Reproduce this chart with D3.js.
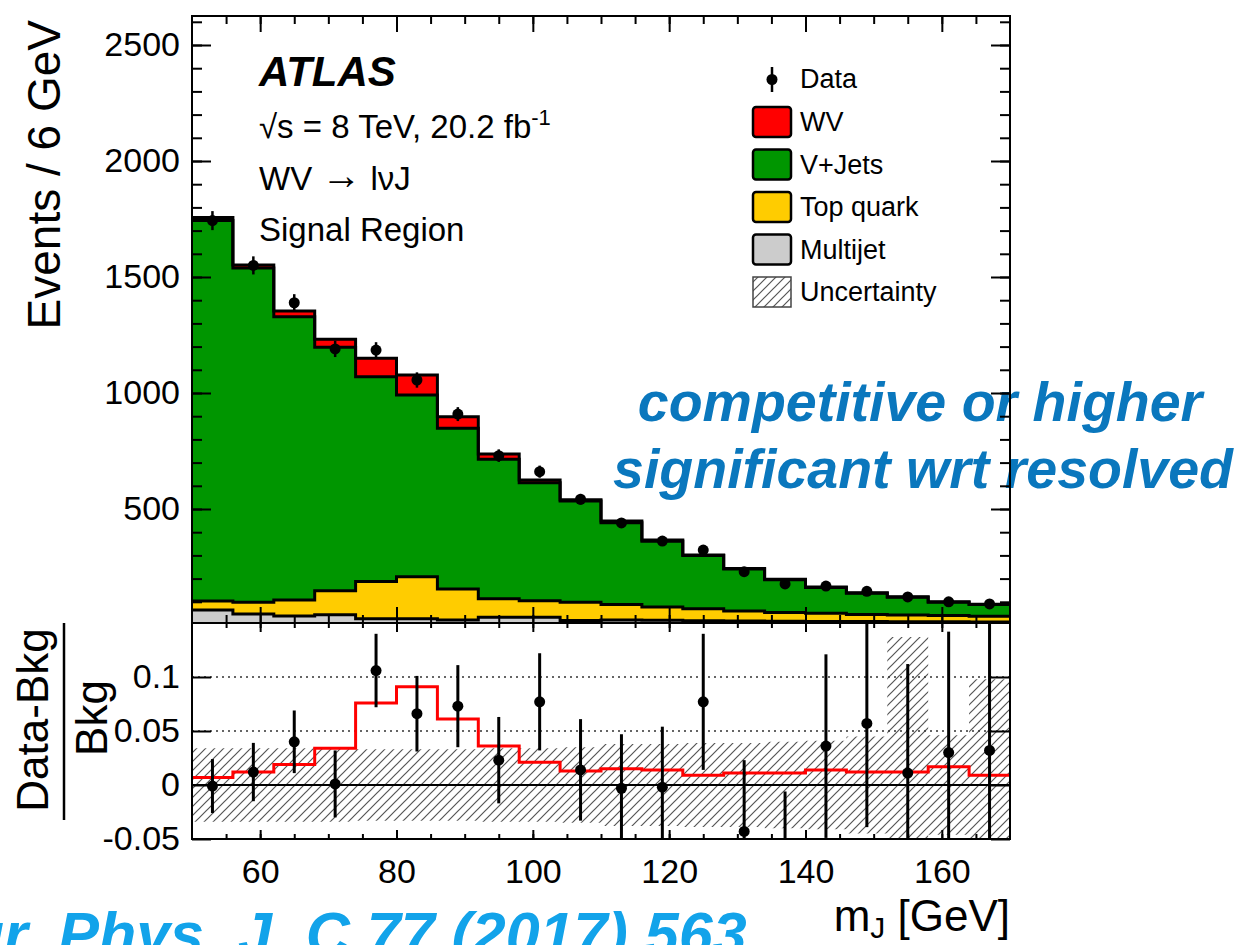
<!DOCTYPE html>
<html>
<head>
<meta charset="utf-8">
<script src="https://cdn.jsdelivr.net/npm/d3@7"></script>
<style>
body { margin: 0; background: #fff; }
svg { display: block; font-family: "Liberation Sans", Arial, Helvetica, sans-serif; }
</style>
</head>
<body>
<div class="chart"></div>
<script>
// DATA ------------------------------------

// bin edges of m_J in GeV (6 GeV bins)
const binEdges = [50,56,62,68,74,80,86,92,98,104,110,116,122,128,134,140,146,152,158,164,170]

// stacked backgrounds + signal, events per bin (bottom to top)
const multijet = [65,47,39,44,27,27,22,33,33,19,22,20,18,17,16,15,15,14,14,13]
const topQuark = [38,51,69,104,160,181,133,80,72,79,66,58,52,43,38,36,30,29,27,25]
const vJets    = [1641,1441,1221,1049,883,783,693,601,508,436,353,283,230,181,141,111,92,77,57,50]
const wvSignal = [12,13,24,35,80,87,50,23,12,6,7,5,2,2,2,2,2,2,2,1]

// observed data
const dataCounts = [1743,1550,1389,1190,1185,1056,909,730,661,542,440,362,323,230,177,168,145,121,100,91]
const dataErr    = [41,39,37,35,34,33,30,27,26,23,21,19,18,15,13,13,12,11,10,10]

// lower panel: (Data-Bkg)/Bkg
const ratioData   = [-0.001,0.012,0.040,0.001,0.106,0.066,0.073,0.023,0.077,0.014,-0.003,-0.002,0.077,-0.043,-0.080,0.036,0.057,0.011,0.030,0.032]
const ratioErr    = [0.025,0.027,0.029,0.031,0.034,0.035,0.038,0.040,0.045,0.047,0.050,0.056,0.063,0.066,0.074,0.085,0.096,0.101,0.112,0.125]
const ratioSignal = [0.007,0.012,0.019,0.034,0.076,0.091,0.061,0.036,0.021,0.013,0.015,0.014,0.009,0.011,0.011,0.014,0.012,0.012,0.017,0.009]
const ratioBand   = [0.034,0.034,0.034,0.034,0.033,0.033,0.033,0.034,0.034,0.035,0.038,0.038,0.039,0.039,0.040,0.041,0.045,0.137,0.046,0.098]

// tick labels
const mainYTicks = [500,1000,1500,2000,2500]
const ratioYTicks = [-0.05,0,0.05,0.1]
const ratioGrid = [0.05,0.1]

const legendLabels = ["Data","WV","V+Jets","Top quark","Multijet","Uncertainty"]
const stackKeys = ["multijet","top","vjets","wv"]
const stackColors = {wv:"#ff0000", vjets:"#009600", top:"#ffcc00", multijet:"#cccccc"}

// CHART INIT ------------------------------

const W = 1238, H = 945
const frame = {left: 192, right: 1010, top: 16, mid: 623, bottom: 839}

const svg = d3.select(".chart").append("svg")
    .attr("width", W)
    .attr("height", H)

const defs = svg.append("defs")
const hatch = defs.append("pattern")
    .attr("id", "hatch")
    .attr("patternUnits", "userSpaceOnUse")
    .attr("width", 9).attr("height", 9)
hatch.append("path")
    .attr("d", "M-1,1 l2,-2 M0,9 l9,-9 M8,10 l2,-2")
    .attr("stroke", "#555").attr("stroke-width", 1.2)

defs.append("clipPath").attr("id", "clip-main")
    .append("rect")
    .attr("x", frame.left).attr("y", frame.top)
    .attr("width", frame.right - frame.left).attr("height", frame.mid - frame.top)
defs.append("clipPath").attr("id", "clip-ratio")
    .append("rect")
    .attr("x", frame.left).attr("y", frame.mid)
    .attr("width", frame.right - frame.left).attr("height", frame.bottom - frame.mid)

const xScale = d3.scaleLinear().domain([50, 170]).range([frame.left, frame.right])
const yScale = d3.scaleLinear().domain([0, 2625]).range([625, frame.top])
const rScale = d3.scaleLinear().domain([-0.05, 0.15]).range([frame.bottom, frame.mid])

const centers = binEdges.slice(0, -1).map((e, i) => (e + binEdges[i + 1]) / 2)

// step points for a histogram
function steps(vals) {
    const pts = []
    vals.forEach((v, i) => {
        pts.push([binEdges[i], v])
        pts.push([binEdges[i + 1], v])
    })
    return pts
}

// blue slide annotations (under the plot frame)
const blue = svg.append("g").attr("font-weight", "bold").attr("font-style", "italic")
blue.append("text")
    .attr("x", 920).attr("y", 421)
    .attr("text-anchor", "middle")
    .attr("font-size", 55.5)
    .attr("fill", "#0a77bd")
    .text("competitive or higher")
blue.append("text")
    .attr("x", 923).attr("y", 488)
    .attr("text-anchor", "middle")
    .attr("font-size", 55.5)
    .attr("fill", "#0a77bd")
    .text("significant wrt resolved")
blue.append("text")
    .attr("x", -74).attr("y", 955)
    .attr("font-size", 61)
    .attr("fill", "#12a3ea")
    .text("Eur. Phys. J. C 77 (2017) 563")

// MAIN PANEL ------------------------------

const rows = binEdges.slice(0, -1).map((e, i) => ({
    multijet: multijet[i], top: topQuark[i], vjets: vJets[i], wv: wvSignal[i]
}))
const stacked = d3.stack().keys(stackKeys)(rows)

const mainG = svg.append("g").attr("clip-path", "url(#clip-main)")

const area = d3.area()
    .x(d => xScale(d[0]))
    .y0(d => yScale(d[1]))
    .y1(d => yScale(d[2]))
const line = d3.line()
    .x(d => xScale(d[0]))
    .y(d => yScale(d[1]))

stacked.forEach(s => {
    const pts = []
    s.forEach((d, i) => {
        pts.push([binEdges[i], d[0], d[1]])
        pts.push([binEdges[i + 1], d[0], d[1]])
    })
    mainG.append("path")
        .attr("d", area(pts))
        .attr("fill", stackColors[s.key])
})
stacked.forEach(s => {
    mainG.append("path")
        .attr("d", line(steps(s.map(d => d[1]))))
        .attr("fill", "none")
        .attr("stroke", "#000")
        .attr("stroke-width", 3)
})

// data points
mainG.selectAll(".derr")
    .data(dataCounts)
    .join("line")
        .attr("x1", (d, i) => xScale(centers[i]))
        .attr("x2", (d, i) => xScale(centers[i]))
        .attr("y1", (d, i) => yScale(d - dataErr[i]))
        .attr("y2", (d, i) => yScale(d + dataErr[i]))
        .attr("stroke", "#000").attr("stroke-width", 2.5)
mainG.selectAll(".dpt")
    .data(dataCounts)
    .join("circle")
        .attr("cx", (d, i) => xScale(centers[i]))
        .attr("cy", d => yScale(d))
        .attr("r", 5.5)
        .attr("fill", "#000")

// RATIO PANEL -----------------------------

const ratioG = svg.append("g").attr("clip-path", "url(#clip-ratio)")

const bandArea = d3.area()
    .x(d => xScale(d[0]))
    .y0(d => rScale(-d[1]))
    .y1(d => rScale(d[1]))
ratioG.append("path")
    .attr("d", bandArea(steps(ratioBand)))
    .attr("fill", "url(#hatch)")

ratioG.selectAll(".grid")
    .data(ratioGrid)
    .join("line")
        .attr("x1", frame.left).attr("x2", frame.right)
        .attr("y1", d => rScale(d)).attr("y2", d => rScale(d))
        .attr("stroke", "#333").attr("stroke-width", 1.5)
        .attr("stroke-dasharray", "2,4")

ratioG.append("line")
    .attr("x1", frame.left).attr("x2", frame.right)
    .attr("y1", rScale(0)).attr("y2", rScale(0))
    .attr("stroke", "#000").attr("stroke-width", 2)

const rLine = d3.line()
    .x(d => xScale(d[0]))
    .y(d => rScale(d[1]))
ratioG.append("path")
    .attr("d", rLine(steps(ratioSignal)))
    .attr("fill", "none")
    .attr("stroke", "#ff0000")
    .attr("stroke-width", 3)

ratioG.selectAll(".rerr")
    .data(ratioData)
    .join("line")
        .attr("x1", (d, i) => xScale(centers[i]))
        .attr("x2", (d, i) => xScale(centers[i]))
        .attr("y1", (d, i) => rScale(d - ratioErr[i]))
        .attr("y2", (d, i) => rScale(d + ratioErr[i]))
        .attr("stroke", "#000").attr("stroke-width", 3)
ratioG.selectAll(".rpt")
    .data(ratioData)
    .join("circle")
        .attr("cx", (d, i) => xScale(centers[i]))
        .attr("cy", d => rScale(d))
        .attr("r", 5.5)
        .attr("fill", "#000")

// AXES ------------------------------------

function styleAxis(g) {
    g.select(".domain").remove()
    g.selectAll(".tick line").attr("stroke", "#000").attr("stroke-width", 2)
    g.selectAll(".tick text")
        .attr("fill", "#000")
        .attr("font-size", 34)
        .attr("font-family", "Liberation Sans, Arial, sans-serif")
}

const xMajor = xScale.ticks(6)
const xMinor = xScale.ticks(24).filter(v => v > 50 && v < 170)
const yMinor = yScale.ticks(26).filter(v => yScale(v) < frame.mid - 1 && v > 0)

// main y, left and right
svg.append("g").attr("transform", `translate(${frame.left},0)`)
    .call(d3.axisLeft(yScale).tickValues(yMinor).tickSizeInner(-10).tickSizeOuter(0).tickFormat(""))
    .call(styleAxis)
svg.append("g").attr("transform", `translate(${frame.left},0)`)
    .call(d3.axisLeft(yScale).tickValues(mainYTicks).tickSizeInner(-19).tickSizeOuter(0)
        .tickPadding(12).tickFormat(d3.format("d")))
    .call(styleAxis)
svg.append("g").attr("transform", `translate(${frame.right},0)`)
    .call(d3.axisRight(yScale).tickValues(yMinor).tickSizeInner(-10).tickSizeOuter(0).tickFormat(""))
    .call(styleAxis)
svg.append("g").attr("transform", `translate(${frame.right},0)`)
    .call(d3.axisRight(yScale).tickValues(mainYTicks).tickSizeInner(-19).tickSizeOuter(0).tickFormat(""))
    .call(styleAxis)

// main x, top and bottom
svg.append("g").attr("transform", `translate(0,${frame.top})`)
    .call(d3.axisBottom(xScale).tickValues(xMinor).tickSizeInner(8).tickSizeOuter(0).tickFormat(""))
    .call(styleAxis)
svg.append("g").attr("transform", `translate(0,${frame.top})`)
    .call(d3.axisBottom(xScale).tickValues(xMajor).tickSizeInner(16).tickSizeOuter(0).tickFormat(""))
    .call(styleAxis)
svg.append("g").attr("transform", `translate(0,${frame.mid})`)
    .call(d3.axisTop(xScale).tickValues(xMinor).tickSizeInner(8).tickSizeOuter(0).tickFormat(""))
    .call(styleAxis)
svg.append("g").attr("transform", `translate(0,${frame.mid})`)
    .call(d3.axisTop(xScale).tickValues(xMajor).tickSizeInner(16).tickSizeOuter(0).tickFormat(""))
    .call(styleAxis)

// ratio x, top and bottom
svg.append("g").attr("transform", `translate(0,${frame.mid})`)
    .call(d3.axisBottom(xScale).tickValues(xMinor).tickSizeInner(5).tickSizeOuter(0).tickFormat(""))
    .call(styleAxis)
svg.append("g").attr("transform", `translate(0,${frame.mid})`)
    .call(d3.axisBottom(xScale).tickValues(xMajor).tickSizeInner(9).tickSizeOuter(0).tickFormat(""))
    .call(styleAxis)
svg.append("g").attr("transform", `translate(0,${frame.bottom})`)
    .call(d3.axisBottom(xScale).tickValues(xMinor).tickSizeInner(-5).tickSizeOuter(0).tickFormat(""))
    .call(styleAxis)
svg.append("g").attr("transform", `translate(0,${frame.bottom})`)
    .call(d3.axisBottom(xScale).tickValues(xMajor).tickSizeInner(-9).tickSizeOuter(0).tickPadding(20))
    .call(styleAxis)

// ratio y, left and right
svg.append("g").attr("transform", `translate(${frame.left},0)`)
    .call(d3.axisLeft(rScale).tickValues(ratioYTicks).tickSizeInner(-19).tickSizeOuter(0)
        .tickPadding(12).tickFormat(d => String(d)))
    .call(styleAxis)
svg.append("g").attr("transform", `translate(${frame.right},0)`)
    .call(d3.axisRight(rScale).tickValues(ratioYTicks).tickSizeInner(-19).tickSizeOuter(0).tickFormat(""))
    .call(styleAxis)

// frames
svg.append("rect")
    .attr("x", frame.left).attr("y", frame.top)
    .attr("width", frame.right - frame.left).attr("height", frame.mid - frame.top)
    .attr("fill", "none").attr("stroke", "#000").attr("stroke-width", 2)
svg.append("rect")
    .attr("x", frame.left).attr("y", frame.mid)
    .attr("width", frame.right - frame.left).attr("height", frame.bottom - frame.mid)
    .attr("fill", "none").attr("stroke", "#000").attr("stroke-width", 2)

// axis titles
svg.append("text")
    .attr("transform", "translate(60,20) rotate(-90)")
    .attr("text-anchor", "end")
    .attr("font-size", 46)
    .text("Events / 6 GeV")

const rt = svg.append("g").attr("transform", "rotate(-90)")
rt.append("text")
    .attr("x", -720).attr("y", 48)
    .attr("text-anchor", "middle")
    .attr("font-size", 44)
    .text("Data-Bkg")
rt.append("line")
    .attr("x1", -820).attr("x2", -623)
    .attr("y1", 64).attr("y2", 64)
    .attr("stroke", "#000").attr("stroke-width", 2.5)
rt.append("text")
    .attr("x", -718).attr("y", 107)
    .attr("text-anchor", "middle")
    .attr("font-size", 44)
    .text("Bkg")

const xt = svg.append("text")
    .attr("x", frame.right).attr("y", 931)
    .attr("text-anchor", "end")
    .attr("font-size", 44)
xt.append("tspan").text("m")
xt.append("tspan").attr("font-size", 30).attr("dy", 7).text("J")
xt.append("tspan").attr("dy", -7).text(" [GeV]")

// ATLAS label
const lab = svg.append("g")
lab.append("text")
    .attr("x", 259).attr("y", 86)
    .attr("font-size", 42).attr("font-weight", "bold").attr("font-style", "italic")
    .text("ATLAS")
const ecm = lab.append("text")
    .attr("x", 259).attr("y", 138)
    .attr("font-size", 33)
ecm.append("tspan").text("\u221As = 8 TeV, 20.2 fb")
ecm.append("tspan").attr("font-size", 22).attr("dy", -13).text("-1")
const dec = lab.append("text")
    .attr("x", 259).attr("y", 190)
    .attr("font-size", 33)
dec.append("tspan").text("WV ")
dec.append("tspan").attr("font-size", 40).attr("dy", -1).text("\u2192")
dec.append("tspan").attr("dy", 1).text(" l\u03BDJ")
lab.append("text")
    .attr("x", 259).attr("y", 241)
    .attr("font-size", 33)
    .text("Signal Region")

// LEGEND ----------------------------------

const leg = svg.append("g")
const legTop = [64, 107, 149.5, 192, 234.5, 277]
const legFill = [null, stackColors.wv, stackColors.vjets, stackColors.top, stackColors.multijet, "url(#hatch)"]
legendLabels.forEach((lbl, i) => {
    if (i === 0) {
        leg.append("line")
            .attr("x1", 772).attr("x2", 772).attr("y1", 67).attr("y2", 92)
            .attr("stroke", "#000").attr("stroke-width", 2.5)
        leg.append("circle")
            .attr("cx", 772).attr("cy", 79.5).attr("r", 5.5).attr("fill", "#000")
    } else {
        leg.append("rect")
            .attr("x", 753).attr("y", legTop[i])
            .attr("width", 38).attr("height", 30)
            .attr("rx", i === 5 ? 0 : 3)
            .attr("fill", legFill[i])
            .attr("stroke", i === 5 ? "#444" : "#000")
            .attr("stroke-width", i === 5 ? 1.5 : 2.5)
    }
    leg.append("text")
        .attr("x", 800).attr("y", legTop[i] + 24)
        .attr("font-size", 27)
        .text(lbl)
})
</script>
</body>
</html>
